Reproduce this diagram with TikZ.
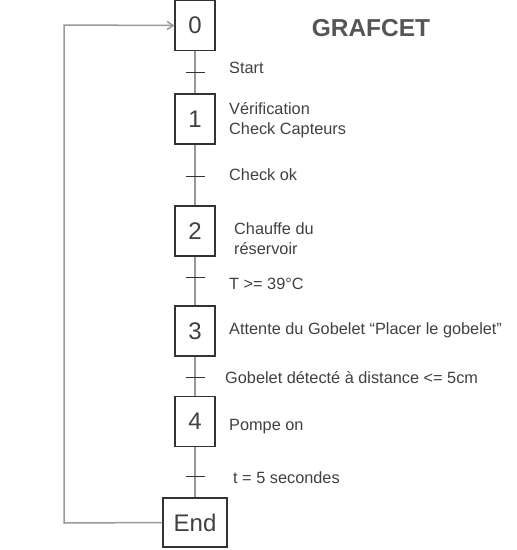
\documentclass[tikz,border=0pt]{standalone}
\usepackage{fontspec}
\setmainfont{Liberation Sans}
\usetikzlibrary{arrows.meta}
\definecolor{txt}{HTML}{404040}
\definecolor{ttl}{HTML}{555555}
\definecolor{lnk}{HTML}{999999}
\definecolor{bord}{HTML}{333333}
\begin{document}
\begin{tikzpicture}[x=1pt,y=-1pt,
  stepbox/.style={draw=bord,line width=1.1pt,fill=white,minimum width=40pt,minimum height=50pt,inner sep=0pt,text=txt,font=\fontsize{24}{24}\selectfont},
  endbox/.style={stepbox,minimum width=64pt,minimum height=49pt},
  lab/.style={anchor=west,text=txt,font=\fontsize{16.3}{19.5}\selectfont,align=left,inner sep=0pt},
  tick/.style={draw=bord,line width=0.7pt},
  link/.style={draw=lnk,line width=1.5pt}]
\useasboundingbox (0,0) rectangle (517,550);
\node[stepbox] (s0) at (195,25.5) {0};
\node[stepbox] (s1) at (195,119) {1};
\node[stepbox] (s2) at (195,231) {2};
\node[stepbox] (s3) at (195,331) {3};
\node[stepbox] (s4) at (195,421.5) {4};
\node[endbox] (se) at (195,522.5) {End};
\draw[link] (s0) -- (s1);
\draw[link] (s1) -- (s2);
\draw[link] (s2) -- (s3);
\draw[link] (s3) -- (s4);
\draw[link] (s4) -- (se);
\coordinate (t0) at (195,72);
\coordinate (t1) at (195,176);
\coordinate (t2) at (195,277);
\coordinate (t3) at (195,377);
\coordinate (t4) at (195,476);
\foreach \t in {t0,t1,t2,t3,t4} \draw[tick] ([xshift=-9.5pt]\t) -- ([xshift=9.5pt]\t);
\coordinate (c1) at (64,523);
\coordinate (c2) at (64,25);
\draw[link,-{Straight Barb[length=6pt,width=8pt]}] (se.west) -- (c1) -- (c2) -- (s0.west);
\node[lab] (l0) at (229,68) {Start};
\node[lab] (l1) at (229,120) {Vérification\\Check Capteurs};
\node[lab] (l2) at (229,175) {Check ok};
\node[lab] (l3) at (234,238.5) {Chauffe du\\réservoir};
\node[lab] (l4) at (229,284) {T >= 39°C};
\node[lab] (l5) at (229,330) {Attente du Gobelet “Placer le gobelet”};
\node[lab] (l6) at (225,378) {Gobelet détecté à distance <= 5cm};
\node[lab] (l7) at (229,427) {Pompe on};
\node[lab] (l8) at (233,478) {t = 5 secondes};
\node[text=ttl,font=\fontsize{24.5}{24.5}\selectfont\bfseries] (title) at (371,28) {GRAFCET};
\end{tikzpicture}
\end{document}
